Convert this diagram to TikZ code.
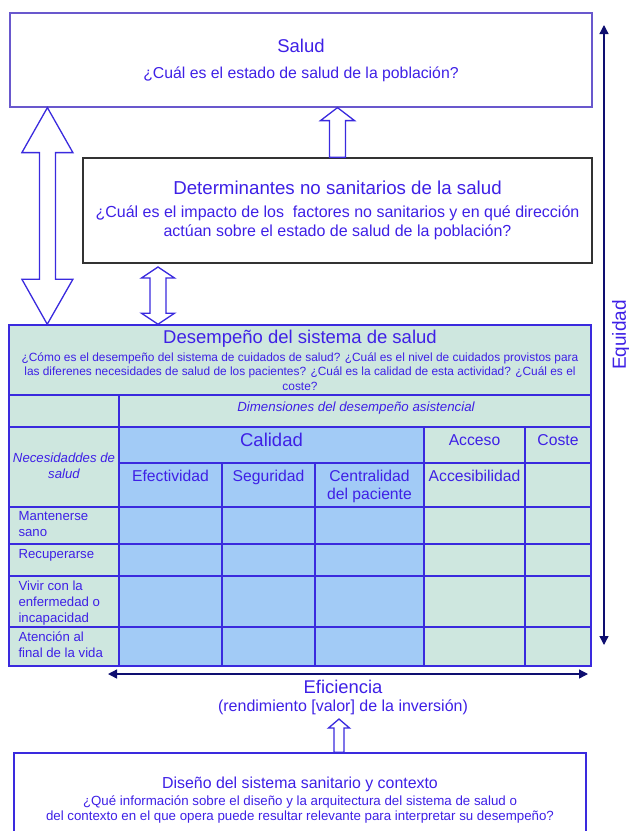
\documentclass[tikz,border=0pt]{standalone}
\usepackage{fontspec}
\setmainfont{Liberation Sans}
\usepackage{tikz}
\usetikzlibrary{calc}
\usetikzlibrary{arrows.meta}
\definecolor{txtblue}{RGB}{62,32,230}
\definecolor{lineblue}{RGB}{58,42,222}
\definecolor{sboxline}{RGB}{105,88,205}
\definecolor{dboxline}{RGB}{50,50,50}
\definecolor{tgreen}{RGB}{206,231,223}
\definecolor{tblue}{RGB}{162,203,246}
\definecolor{navy}{RGB}{14,14,112}
\newcommand{\tcell}[5]{ \filldraw[fill=#1,draw=lineblue,line width=1.5pt] ( #2 , #3 ) rectangle ( #4 , #5 );}
\newcommand{\datarow}[2]{
  \tcell{tgreen}{9}{#1}{119}{#2}
  \tcell{tblue}{119}{#1}{222}{#2}
  \tcell{tblue}{222}{#1}{315}{#2}
  \tcell{tblue}{315}{#1}{424}{#2}
  \tcell{tgreen}{424}{#1}{525}{#2}
  \tcell{tgreen}{525}{#1}{591}{#2}}
\newcommand{\dblblock}[5]{\draw[blockarr] let \p1=(#1), \p2=(#2) in
  (\p1) -- (\x1+#3pt,\y1-#5pt) -- (\x1+#4pt,\y1-#5pt) -- (\x1+#4pt,\y2+#5pt)
  -- (\x1+#3pt,\y2+#5pt) -- (\p2) -- (\x1-#3pt,\y2+#5pt) -- (\x1-#4pt,\y2+#5pt)
  -- (\x1-#4pt,\y1-#5pt) -- (\x1-#3pt,\y1-#5pt) -- cycle;}
\newcommand{\upblock}[5]{\draw[blockarr] let \p1=(#1), \p2=(#2) in
  (\p2) -- (\x2+#3pt,\y2-#5pt) -- (\x2+#4pt,\y2-#5pt) -- (\x2+#4pt,\y1)
  -- (\x2-#4pt,\y1) -- (\x2-#4pt,\y2-#5pt) -- (\x2-#3pt,\y2-#5pt) -- cycle;}

\begin{document}
\begin{tikzpicture}[x=1pt,y=-1pt,
    every node/.style={text=txtblue},
    blockarr/.style={draw=lineblue,line width=1.3pt,fill=white,line join=miter},
    navyarr/.style={draw=navy,line width=1.3pt,{Triangle[length=9pt,width=9pt]}-{Triangle[length=9pt,width=9pt]}}]
  \useasboundingbox (0,0) rectangle (629,831);

  % boxes
  \node[draw=sboxline,line width=1.2pt,minimum width=582pt,minimum height=94pt,align=center,
        font=\fontsize{15.8}{20}\selectfont] (salud) at (301,60)
    {{\fontsize{18.5}{20}\selectfont Salud}\\[6pt]¿Cuál es el estado de salud de la población?};
  \node[draw=dboxline,line width=1.3pt,minimum width=509pt,minimum height=105pt,align=center,
        font=\fontsize{16}{19}\selectfont] (det) at (337.5,210.5)
    {{\fontsize{18.7}{20}\selectfont Determinantes no sanitarios de la salud}\\[4pt]
     ¿Cuál es el impacto de los\ \ factores no sanitarios y en qué dirección\\
     actúan sobre el estado de salud de la población?};
  \node[draw=lineblue,line width=1.3pt,minimum width=572pt,minimum height=94pt,align=center,
        font=\fontsize{13.3}{15}\selectfont] (diseno) at (300,800)
    {{\fontsize{15.9}{17}\selectfont Diseño del sistema sanitario y contexto}\\[2pt]
     ¿Qué información sobre el diseño y la arquitectura del sistema de salud o\\
     del contexto en el que opera puede resultar relevante para interpretar su desempeño?};

  % table
  \node[draw=lineblue,fill=tgreen,line width=1.5pt,minimum width=582pt,minimum height=70pt,align=center,
        font=\fontsize{11.9}{14.5}\selectfont] (desemp) at (300,360)
    {{\fontsize{18.5}{20}\selectfont Desempeño del sistema de salud}\\[3.5pt]
     ¿Cómo es el desempeño del sistema de cuidados de salud? ¿Cuál es el nivel de cuidados provistos para\\
     las diferenes necesidades de salud de los pacientes? ¿Cuál es la calidad de esta actividad? ¿Cuál es el\\
     coste?};
  % header rows
  \tcell{tgreen}{9}{395}{119}{427}
  \tcell{tgreen}{119}{395}{591}{427}
  \tcell{tgreen}{9}{427}{119}{507}
  \tcell{tblue}{119}{427}{424}{463}
  \tcell{tgreen}{424}{427}{525}{463}
  \tcell{tgreen}{525}{427}{591}{463}
  \tcell{tblue}{119}{463}{222}{507}
  \tcell{tblue}{222}{463}{315}{507}
  \tcell{tblue}{315}{463}{424}{507}
  \tcell{tgreen}{424}{463}{525}{507}
  \tcell{tgreen}{525}{463}{591}{507}
  % data rows
  \datarow{507}{544}
  \datarow{544}{576}
  \datarow{576}{627}
  \datarow{627}{666}

  % header labels
  \node[font=\fontsize{13.3}{15}\itshape] (dimen) at (356,408) {Dimensiones del desempeño asistencial};
  \node[font=\fontsize{13.2}{16}\itshape,align=center] (neces) at (64,466) {Necesidaddes de\\salud};
  \node[font=\fontsize{18.5}{20}\selectfont] (calid) at (271.5,440) {Calidad};
  \node[font=\fontsize{15.7}{17}\selectfont] (acceso) at (474.5,440) {Acceso};
  \node[font=\fontsize{15.7}{17}\selectfont] (coste) at (558,440) {Coste};
  \node[font=\fontsize{15.7}{18}\selectfont,anchor=north] (efect) at (170.5,467) {Efectividad};
  \node[font=\fontsize{15.7}{18}\selectfont,anchor=north] (segur) at (268.5,467) {Seguridad};
  \node[font=\fontsize{15.7}{18}\selectfont,anchor=north,align=center] (centr) at (369.5,467) {Centralidad\\del paciente};
  \node[font=\fontsize{15.7}{18}\selectfont,anchor=north] (acces) at (474.5,467) {Accesibilidad};

  % row labels
  \node[font=\fontsize{13.2}{16}\selectfont,anchor=north west,align=left] (mant) at (15,508) {Mantenerse\\sano};
  \node[font=\fontsize{13.2}{16}\selectfont,anchor=north west,align=left] (recup) at (15,546) {Recuperarse};
  \node[font=\fontsize{13.2}{16}\selectfont,anchor=north west,align=left] (vivir) at (15,577) {Vivir con la\\enfermedad o\\incapacidad};
  \node[font=\fontsize{13.2}{16}\selectfont,anchor=north west,align=left] (atenc) at (15,628) {Atención al\\final de la vida};

  % block arrows
  \upblock{det.north}{salud.south -| det.north}{17}{8}{13}
  \dblblock{[xshift=38pt]salud.south west}{[xshift=39pt]desemp.north west}{25.5}{8}{45}
  \coordinate (dd) at (158,267);
  \dblblock{dd}{desemp.north -| dd}{16.5}{8}{11}
  \coordinate (ua) at (339,719);
  \upblock{diseno.north -| ua}{ua}{10.5}{5}{9}

  % equidad and eficiencia
  \coordinate (eq1) at (604,25);
  \coordinate (eq2) at (604,645);
  \draw[navyarr] (eq1) -- (eq2);
  \node[rotate=90,font=\fontsize{19}{20}\selectfont] (equid) at (621,335) {Equidad};
  \coordinate (ef1) at (108,674);
  \coordinate (ef2) at (588,674);
  \draw[navyarr] (ef1) -- (ef2);
  \node[font=\fontsize{18.4}{20}\selectfont] (efic) at (343,687) {Eficiencia};
  \node[font=\fontsize{16}{17}\selectfont] (rend) at (343,707) {(rendimiento [valor] de la inversión)};
\end{tikzpicture}
\end{document}
